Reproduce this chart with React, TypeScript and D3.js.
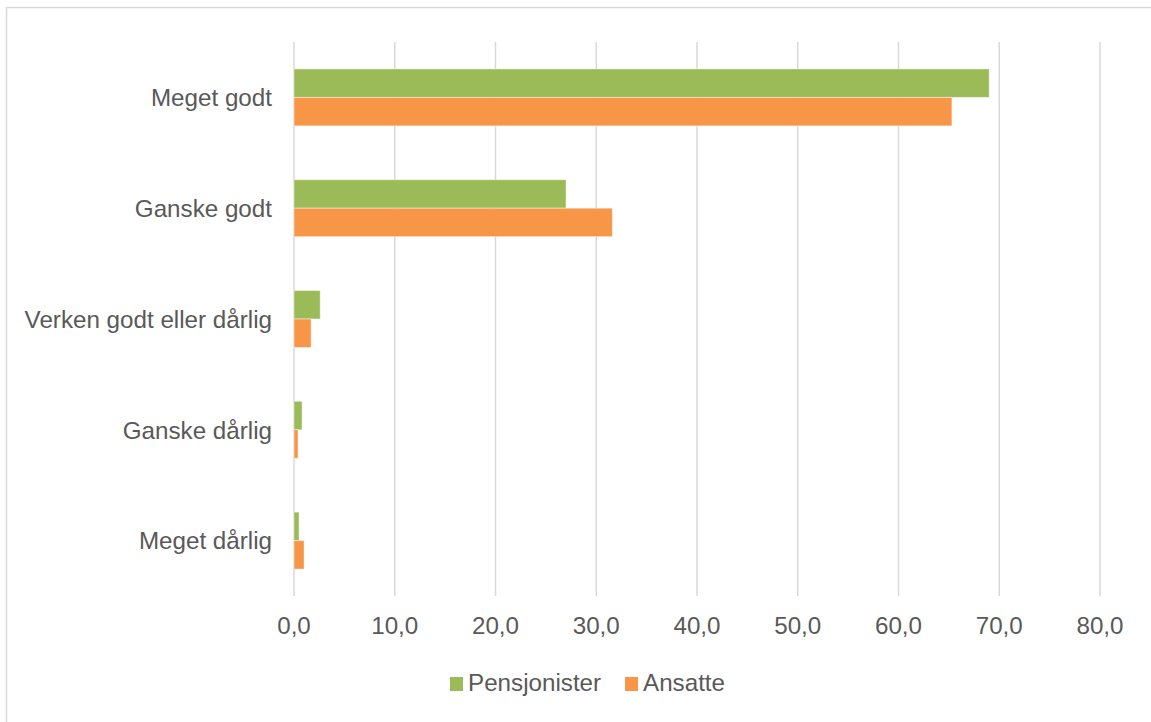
import React from "react";
import * as d3 from "d3";

const categories = [
  "Meget godt",
  "Ganske godt",
  "Verken godt eller dårlig",
  "Ganske dårlig",
  "Meget dårlig",
];
const seriesNames = ["Pensjonister", "Ansatte"];
const pensjonister = [69.0, 27.0, 2.6, 0.8, 0.5];
const ansatte = [65.3, 31.6, 1.7, 0.4, 1.0];
const xTicks = [0, 10, 20, 30, 40, 50, 60, 70, 80];
const colors = ["#9BBB59", "#F79646"];

export default function App() {
  const W = 1151;
  const H = 722;
  const left = 294;
  const right = 1100;
  const top = 42;
  const bottom = 596;
  const font = "'Liberation Sans', Arial, Helvetica, sans-serif";
  const fs = 24.2;
  const textColor = "#595959";

  const x = d3.scaleLinear().domain([0, 80]).range([left, right]);
  const y = d3.scaleBand<string>().domain(categories).range([top, bottom]).paddingInner(0.486).paddingOuter(0.243);
  const sub = d3.scaleBand<number>().domain([0, 1]).range([0, y.bandwidth()]);
  const series = [pensjonister, ansatte];
  const fmt = (v: number) => d3.format(".1f")(v).replace(".", ",");

  return (
    <svg
      width={W}
      height={H}
      style={{ position: "absolute", left: 0, top: 0, background: "#fff" }}
      fontFamily={font}
    >
      <rect x={0} y={0} width={W} height={H} fill="#fff" />
      <path d={`M6.5,${H} V7.5 H${W}`} fill="none" stroke="#d9d9d9" strokeWidth={1.5} />
      {xTicks.map((t) => (
        <line key={"g" + t} x1={x(t)} x2={x(t)} y1={top} y2={bottom} stroke="#d9d9d9" strokeWidth={1.5} />
      ))}
      {categories.map((c, i) =>
        series.map((s, j) => (
          <rect
            key={c + j}
            x={x(0)}
            y={(y(c) as number) + (sub(j) as number)}
            width={x(s[i]) - x(0)}
            height={sub.bandwidth()}
            fill={colors[j]}
            stroke="#ffffff"
            strokeOpacity={0.45}
            strokeWidth={1}
          />
        ))
      )}
      {categories.map((c) => (
        <text
          key={"l" + c}
          x={272}
          y={(y(c) as number) + y.bandwidth() / 2}
          dy="0.36em"
          textAnchor="end"
          fontSize={fs}
          fill={textColor}
        >
          {c}
        </text>
      ))}
      {xTicks.map((t) => (
        <text key={"t" + t} x={x(t)} y={634} textAnchor="middle" fontSize={fs} fill={textColor}>
          {fmt(t)}
        </text>
      ))}
      {seriesNames.map((n, j) => {
        const lx = j === 0 ? 450 : 625;
        return (
          <g key={n}>
            <rect x={lx} y={677} width={13} height={14} fill={colors[j]} />
            <text x={lx + 18} y={691} fontSize={fs} fill={textColor}>
              {n}
            </text>
          </g>
        );
      })}
    </svg>
  );
}
